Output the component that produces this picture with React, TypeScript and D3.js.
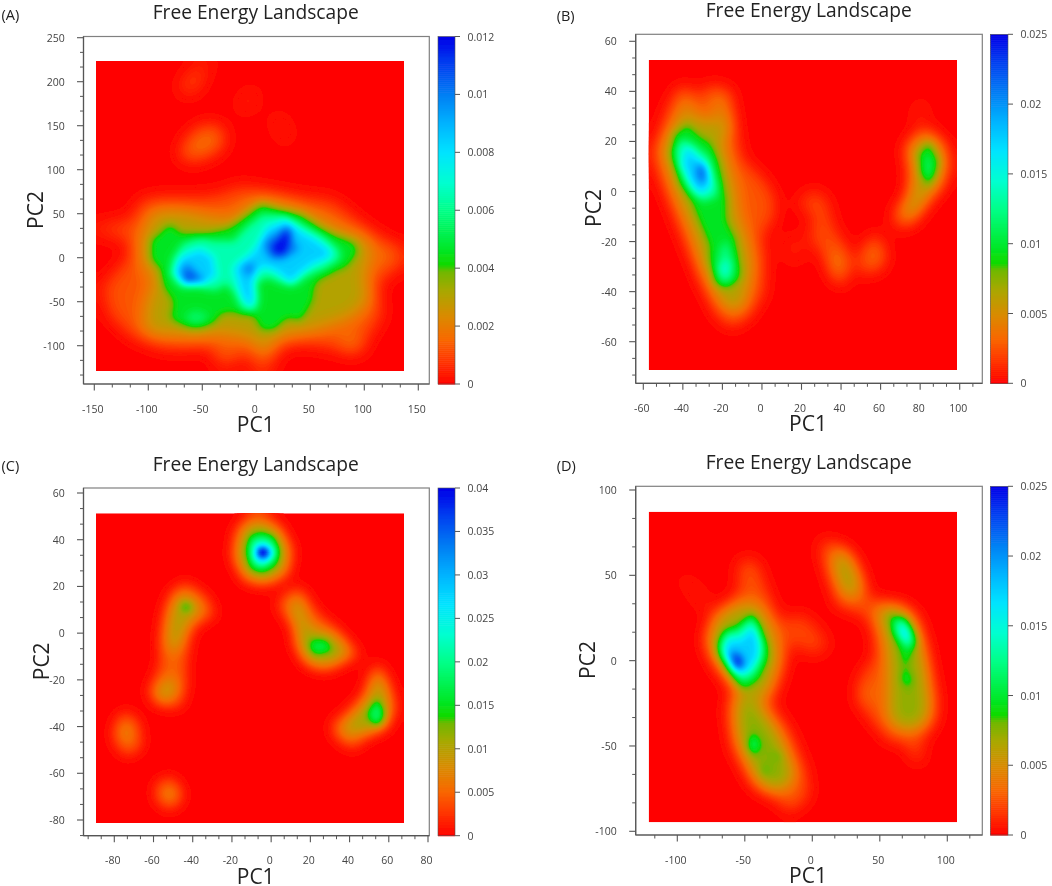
import React, { useMemo } from "react";
import * as d3 from "d3";

// Isolines: [share of the colour-bar maximum, [[pc1, pc2], ...]]
type Iso = [number, [number, number][]];

const isoA: Iso[] = [
  [0.11, [[-15,82],[10,76],[41,69],[72,65],[90,46],[109,27],[134,12],[132,-11],[112,-29],[117,-67],[103,-90],[97,-109],[78,-105],[41,-97],[22,-101],[13,-126],[-3,-126],[-6,-105],[-21,-120],[-37,-120],[-40,-101],[-84,-105],[-115,-90],[-136,-67],[-143,-33],[-127,-11],[-115,5],[-121,23],[-146,27],[-146,38],[-115,42],[-108,65],[-90,69],[-52,69],[-34,72]]],
  [0.15, [[-71,121],[-59,143],[-40,153],[-28,140],[-34,121],[-56,110],[-71,112]]],
  [0.11, [[-72,189],[-65,206],[-52,220],[-34,220],[-49,212],[-52,193],[-65,184]]],
  [0.07, [[-18,171],[-9,189],[2,193],[-3,171],[-12,165]]],
  [0.05, [[12,163],[25,163],[34,140],[28,125],[19,140]]],
  [0.17, [[118,12],[130,12],[130,-5],[118,-5]]],
  [0.2, [[81,-90],[93,-90],[95,-107],[82,-107]]],
  [0.17, [[-36,-105],[-26,-105],[-26,-118],[-36,-118]]],
  [0.26, [[5,67],[31,59],[56,46],[78,31],[104,22],[107,5],[100,-22],[106,-48],[90,-67],[59,-80],[41,-86],[19,-90],[7,-112],[-3,-92],[-34,-86],[-52,-90],[-80,-88],[-104,-86],[-102,-48],[-93,-26],[-105,-7],[-108,12],[-102,35],[-96,52],[-71,54],[-46,46],[-21,42],[-9,57]]],
  [0.39, [[5,62],[25,54],[42,50],[59,35],[72,27],[92,18],[95,5],[84,-11],[67,-20],[55,-29],[53,-48],[42,-73],[28,-69],[17,-84],[5,-84],[-3,-65],[-31,-63],[-40,-77],[-56,-82],[-71,-77],[-80,-69],[-77,-50],[-87,-33],[-90,-14],[-99,-3],[-98,20],[-90,29],[-79,40],[-68,27],[-43,29],[-25,35],[-11,48]]],
  [0.55, [[5,48],[28,48],[42,38],[61,25],[76,10],[78,-1],[64,-12],[48,-20],[36,-31],[22,-29],[10,-22],[0,-29],[2,-52],[-3,-62],[-14,-58],[-20,-41],[-28,-29],[-37,-37],[-56,-33],[-71,-33],[-80,-18],[-77,-1],[-68,16],[-52,22],[-34,18],[-21,18],[-9,35]]],
  [0.47, [[-66,-65],[-56,-60],[-43,-65],[-52,-75],[-62,-73]]],
  [0.71, [[10,35],[28,42],[41,31],[56,20],[69,8],[67,-1],[53,-7],[41,-18],[31,-29],[22,-18],[10,-11],[0,-14],[-3,-29],[-3,-56],[-12,-48],[-17,-29],[-21,-11],[-9,1],[0,12]]],
  [0.71, [[-70,1],[-52,10],[-40,1],[-37,-22],[-52,-29],[-68,-29],[-77,-16]]],
  [0.84, [[19,29],[31,38],[34,20],[41,10],[25,-1],[14,-1],[7,8],[7,20]]],
  [0.84, [[-14,-11],[-3,-5],[0,-14],[-7,-22]]],
  [0.86, [[-70,-16],[-65,-5],[-52,-20],[-46,-28],[-66,-29]]],
  [1.0, [[22,23],[30,35],[31,20],[27,3],[16,3],[14,14]]],
  [1.0, [[-66,-20],[-56,-24],[-65,-28]]],
];

const isoB: Iso[] = [
  [0.11, [[-38,43],[-33,37],[-27,43],[-16,41],[-13,25],[-10,13],[0,6],[6,-1],[7,-10],[0,-17],[2,-27],[1,-41],[-6,-50],[-15,-55],[-23,-50],[-32,-35],[-40,-19],[-52,5],[-55,15],[-49,31],[-43,41]]],
  [0.11, [[84.5,25],[93,19],[95.5,10],[91,1],[81,-7],[76,-14],[68,-15],[66,-9],[74,-1],[74,10],[72,18],[78,23]]],
  [0.04, [[76,35],[83,37],[84.5,25],[77,24]]],
  [0.1, [[17,-5],[26,1],[33,-3],[36,-14],[41,-19],[45,-28],[41,-39],[36,-35],[31,-26],[24,-19],[26,-9]]],
  [0.1, [[47.5,-28.5],[49,-25],[54,-19],[59,-16],[63.5,-27],[59,-32.5],[49,-33]]],
  [0.18, [[35,-23],[41,-23],[42,-31],[39,-37],[35,-31]]],
  [0.17, [[54,-22],[59,-20],[60,-28],[54,-30]]],
  [0.04, [[9,-19],[20.5,-16.5],[22,-27],[14,-30]]],
  [0.27, [[-38,31],[-33,29],[-30,29],[-22,27],[-17,31],[-16,25],[-20,21],[-18,14],[-14,2],[-12,-10],[-8,-19],[-5,-30],[-8,-41],[-10,-47],[-16,-48],[-23,-42],[-30,-30],[-35,-17],[-43,-2],[-48,9],[-51,17],[-45,26],[-42,30]]],
  [0.2, [[-41,38],[-36,38],[-35,30],[-42,30]]],
  [0.2, [[-24,38],[-18,38],[-17,28],[-24,28]]],
  [0.27, [[84,23],[91,17],[92,10],[89,2],[83,-2],[79,-9],[71,-11],[70,-9],[75,-2],[77,8],[74,17],[79,21]]],
  [0.39, [[-38,27],[-33,23],[-25,19],[-21,11],[-18,-2],[-18,-11],[-13,-19],[-11,-30],[-11,-35],[-18,-39],[-24,-37],[-27,-27],[-27,-21],[-33,-10],[-35,-5],[-42,3],[-46,14],[-45,23]]],
  [0.39, [[84.5,20],[89.5,13],[88.6,7],[84.5,2],[80,6],[78.6,15]]],
  [0.55, [[-40,21],[-35,19],[-27,14],[-23,3],[-23,-2],[-30,-4],[-37,1],[-42,9],[-44,17]]],
  [0.5, [[-18,-19],[-14,-29],[-15,-35],[-20,-37],[-23,-31],[-21,-23]]],
  [0.46, [[84.5,14],[86,10],[85,6],[83,7],[82,13]]],
  [0.71, [[-39,18],[-33,14],[-27,9],[-26,2],[-31,-1],[-36,3],[-40,10]]],
  [0.6, [[-18,-27],[-16,-31],[-19,-35],[-22,-31]]],
  [0.88, [[-33,11],[-29,11],[-28,5],[-31,3],[-33,6]]],
];

const isoC: Iso[] = [
  [0.13, [[-5,51],[4,47],[11,36],[9,25],[-2.4,20],[-14,22],[-20,33],[-18,45],[-12,50]]],
  [0.3, [[-5,47],[4,43],[8,35],[6,26],[-4,22.5],[-13,25],[-17,33],[-15,42],[-11,46.5]]],
  [0.39, [[-5,44],[2,42],[5,35],[3.5,29],[-4,25],[-11,27],[-13,35],[-11.5,42]]],
  [0.55, [[-5,41],[0,40],[3,35],[0,30],[-5,28],[-10,30],[-11,35],[-10,40]]],
  [0.71, [[-5,38],[-1.5,37],[2,34.5],[-1.5,31],[-5,30],[-8,32.5],[-8,36]]],
  [0.95, [[-5.4,37],[-0.3,34.6],[-4,32],[-6.6,34]]],
  [1.5, [[-5,36],[-2.4,34.6],[-5,33],[-5.8,34.3]]],
  [0.13, [[-44,22],[-33,16],[-28,7.5],[-36,5],[-41,0.5],[-43,-9.5],[-43,-21],[-46,-32],[-58,-31],[-63,-25],[-57,-15],[-57,-4],[-55,7.5],[-51.5,17.5]]],
  [0.27, [[-45,17.5],[-38,13],[-35,7.5],[-41,7],[-45,-1],[-48,-7.5],[-53,-7],[-52,5],[-50,12]]],
  [0.27, [[-50,-19.5],[-48,-24],[-55,-30],[-59,-27],[-55,-21]]],
  [0.42, [[-45.6,13.5],[-40.5,12],[-42,9],[-45.6,9.5]]],
  [0.13, [[-73.5,-33],[-67,-39],[-66,-49],[-73.5,-53],[-80,-47],[-79.5,-37]]],
  [0.22, [[-74,-39],[-71,-42],[-73,-46.5],[-77,-44],[-77,-40]]],
  [0.13, [[-51.5,-61],[-45.5,-67],[-45.5,-72],[-52,-76],[-59,-71.5],[-59,-65]]],
  [0.22, [[-52,-66],[-48,-68],[-50,-71.5],[-55,-71],[-55,-67]]],
  [0.13, [[14.5,20],[23,9],[33,2],[46,-9.5],[38,-12.5],[28,-16.5],[18,-14],[12,-5],[12,2],[2.7,12],[6,16]]],
  [0.29, [[14,16],[17,7.5],[19,2],[31.5,-1],[40,-8],[31.5,-12.5],[23,-13.5],[16,-9.5],[14.5,-2.4],[13,3],[10,12]]],
  [0.42, [[20.5,-2.4],[29,-3],[31.5,-7.5],[23,-9.5],[19,-7]]],
  [0.13, [[54.5,-12.5],[60.5,-21],[63.7,-32],[60,-39.5],[48.5,-45],[41.7,-50],[33,-45],[30,-39.5],[38,-34],[47,-26.5],[51,-16.5]]],
  [0.29, [[54.5,-15],[58.6,-26.5],[60,-34],[57,-41],[45,-42],[38,-44],[35.8,-41],[43,-35],[50,-28],[52.7,-21]]],
  [0.46, [[54,-28],[58,-34],[56,-39],[52,-39],[49,-34.5]]],
];

const isoD: Iso[] = [
  [0.11, [[-54,59],[-41.5,59],[-34,42],[-24,22],[-19,2.5],[-24,-13],[-31,-25],[-17,-40.5],[-4.4,-64],[-2,-80],[-17,-90],[-29,-80],[-44,-74],[-59,-52],[-64,-29],[-59,-17],[-74,-1.4],[-80,12],[-74,28],[-64,33],[-54,40]]],
  [0.06, [[-78.5,28],[-96,45.5],[-96,51],[-88,45.5],[-74,32]]],
  [0.03, [[-114,51],[-107,51],[-107,46.5],[-114,46.5]]],
  [0.09, [[-24,24],[-7,28],[5.4,18],[13,8.4],[0.5,2.5],[-14,10],[-19,6.5]]],
  [0.28, [[-49,34],[-39,32],[-29,18],[-25,2.5],[-30,-13],[-38,-24],[-49,-18],[-59,-13],[-71,0.6],[-77,10],[-72,24],[-64,30]]],
  [0.31, [[-49,-18],[-44,-23],[-39,-27],[-30,-37],[-22,-48],[-14,-66],[-17,-72],[-24,-76],[-37,-74],[-46,-62],[-55,-46],[-56,-29],[-54,-18]]],
  [0.39, [[-45,29],[-39,22],[-33,10],[-32,1],[-39,-11],[-49,-17],[-54,-16],[-61,-9],[-70,2.5],[-71,10],[-66,18],[-54,21]]],
  [0.55, [[-44,25],[-40,18],[-36.5,8],[-38,-1.4],[-44,-9],[-51,-12],[-59,-6],[-66,2.5],[-68,10],[-64,16],[-54,18],[-50,22]]],
  [0.71, [[-44,20],[-40,12],[-40,2.5],[-46,-5],[-54,-8],[-61,-1.4],[-66,6.5],[-61,13],[-54,12],[-49,16]]],
  [0.89, [[-56,5.5],[-51,2.5],[-51,-4],[-55,-5.7],[-61,0.6],[-62,4.5]]],
  [1.05, [[-55,2.5],[-52,-1.4],[-55,-5],[-57.5,-1.4]]],
  [0.46, [[-44,-42],[-39,-49],[-43,-56],[-48,-50]]],
  [0.42, [[-29,-54],[-23,-55],[-25,-59]]],
  [0.42, [[-37,-61],[-34,-62],[-34,-66],[-37,-66]]],
  [0.11, [[11.6,71],[25,65],[35,53],[40,41],[45,34],[50,36],[59,32],[77,28],[84,10],[92,-19],[92,-35],[80,-48],[82,-60],[75,-60],[70,-48],[57.8,-48],[45,-36.5],[33,-23],[35,-9],[47,2.5],[45,18],[40,26],[18,32],[15,42],[6.7,61],[6.7,71]]],
  [0.28, [[19,67],[29,61],[36,45.5],[35,38],[25,37],[19,45.5],[15,57]]],
  [0.3, [[50,32],[67,32],[78,18],[83,0.6],[87,-29],[82,-38.5],[67,-41],[57,-34.5],[56,-21],[57,-5],[55,10],[50,24]]],
  [0.39, [[57,27],[68.4,26],[75.8,18],[78,10],[73,2.5],[69.6,-3],[74.6,-12],[71,-17],[66,-12],[67,-1.4],[65,6.5],[58.5,16]]],
  [0.55, [[61,24],[68.4,24],[73,16],[74.6,10],[70,6.5],[67,12],[61,18]]],
  [0.68, [[66,21],[71,19],[72,13],[68.4,10],[64.7,16]]],
  [0.18, [[37.5,-13],[43.7,-17],[42.5,-25],[37.5,-23]]],
];

const colorStops: [number, string][] = [
  [0, "#ff0000"], [0.07, "#ff3800"], [0.13, "#f86800"], [0.2, "#d88c00"], [0.27, "#a8a800"], [0.325, "#70b800"],
  [0.345, "#10da00"], [0.4, "#00ea30"], [0.5, "#00ff88"], [0.58, "#00ffd0"], [0.667, "#00e4ff"], [0.75, "#00b4ff"],
  [0.83, "#0080f4"], [0.92, "#0040f0"], [1, "#0000e8"],
];

const titleText = "Free Energy Landscape";

const scaleColor = d3.scaleLinear<string>()
  .domain(colorStops.map((s) => s[0]))
  .range(colorStops.map((s) => s[1]))
  .interpolate(d3.interpolateRgb);

interface PanelCfg {
  letter: string; letterPos: [number, number];
  frame: [number, number, number, number];
  xAnchor: [number, number, number, number]; yAnchor: [number, number, number, number];
  heat: [number, number, number, number];
  xTicks: number[]; yTicks: number[]; cbTicks: number[]; vmax: number;
  iso: Iso[]; titlePos: [number, number]; pc1Pos: [number, number]; pc2Pos: [number, number];
  barX: [number, number]; labelRight: number; blur: number; wideBlur: number;
}

const xTicksA = [-150, -100, -50, 0, 50, 100, 150];
const yTicksA = [-100, -50, 0, 50, 100, 150, 200, 250];
const cbA = [0, 0.002, 0.004, 0.006, 0.008, 0.01, 0.012];
const xTicksB = [-60, -40, -20, 0, 20, 40, 60, 80, 100];
const yTicksB = [-60, -40, -20, 0, 20, 40, 60];
const cbB = [0, 0.005, 0.01, 0.015, 0.02, 0.025];
const xTicksC = [-80, -60, -40, -20, 0, 20, 40, 60, 80];
const yTicksC = [-80, -60, -40, -20, 0, 20, 40, 60];
const cbC = [0, 0.005, 0.01, 0.015, 0.02, 0.025, 0.03, 0.035, 0.04];
const xTicksD = [-100, -50, 0, 50, 100];
const yTicksD = [-100, -50, 0, 50, 100];
const cbD = [0, 0.005, 0.01, 0.015, 0.02, 0.025];

const panels: PanelCfg[] = [
  { letter: "(A)", letterPos: [1.5, 20], frame: [83.5, 36.5, 429.3, 384], xAnchor: [-150, 150, 94.3, 418.3], yAnchor: [-100, 250, 345.7, 37.7],
    heat: [96, 61, 404, 371], xTicks: xTicksA, yTicks: yTicksA, cbTicks: cbA, vmax: 0.012, iso: isoA,
    titlePos: [255.7, 19], pc1Pos: [255.7, 431.5], pc2Pos: [42.7, 210], barX: [438, 455], labelRight: 64.7, blur: 1.4, wideBlur: 3.4 },
  { letter: "(B)", letterPos: [556.7, 20.5], frame: [635.7, 34.3, 982.3, 383.3], xAnchor: [-60, 100, 643.3, 959.7], yAnchor: [-60, 60, 341.7, 41.3],
    heat: [648.7, 60, 957, 370], xTicks: xTicksB, yTicks: yTicksB, cbTicks: cbB, vmax: 0.025, iso: isoB,
    titlePos: [808.7, 17.3], pc1Pos: [808, 431], pc2Pos: [601.3, 208], barX: [990.3, 1008], labelRight: 616.7, blur: 1.4, wideBlur: 3 },
  { letter: "(C)", letterPos: [1.5, 471.3], frame: [83.5, 488, 429.3, 835.7], xAnchor: [-80, 80, 114.3, 428], yAnchor: [-80, 60, 820, 493],
    heat: [96, 513.3, 404, 823], xTicks: xTicksC, yTicks: yTicksC, cbTicks: cbC, vmax: 0.04, iso: isoC,
    titlePos: [255.7, 470.7], pc1Pos: [255.7, 883.7], pc2Pos: [48.7, 661.3], barX: [438, 455], labelRight: 64.7, blur: 1.3, wideBlur: 2.4 },
  { letter: "(D)", letterPos: [556.7, 471.3], frame: [635.7, 486.3, 982.3, 835], xAnchor: [-100, 100, 677.3, 947.3], yAnchor: [-100, 100, 831.3, 490],
    heat: [648.7, 511.7, 957, 822.3], xTicks: xTicksD, yTicks: yTicksD, cbTicks: cbD, vmax: 0.025, iso: isoD,
    titlePos: [808.7, 469], pc1Pos: [808, 883], pc2Pos: [594.7, 660], barX: [990.3, 1008], labelRight: 616.7, blur: 1.4, wideBlur: 3 },
];

const FONT = "'Open Sans', sans-serif";
const LEVELS = 110;
const GREEN_JUMP = 0.36;

function minorTicks(major: number[], lo: number, hi: number): number[] {
  const step = (major[1] - major[0]) / 3;
  const out: number[] = [];
  const a = Math.min(lo, hi), b = Math.max(lo, hi);
  for (let k = -40; k < 200; k++) {
    const v = major[0] + k * step;
    if (v >= a && v <= b && k % 3 !== 0) out.push(v);
  }
  return out;
}

function Panel({ p, i }: { p: PanelCfg; i: number }) {
  const [fl, ft, fr, fb] = p.frame;
  const sx = d3.scaleLinear().domain([p.xAnchor[0], p.xAnchor[1]]).range([p.xAnchor[2], p.xAnchor[3]]);
  const sy = d3.scaleLinear().domain([p.yAnchor[0], p.yAnchor[1]]).range([p.yAnchor[2], p.yAnchor[3]]);
  const sbar = d3.scaleLinear().domain([0, p.vmax]).range([fb, ft]);
  const [hl, ht, hr, hb] = p.heat;

  const paths = useMemo(() => {
    const nx = Math.round((hr - hl) / 2), ny = Math.round((hb - ht) / 2);
    const gx = d3.scaleLinear().domain([0, nx]).range([hl, hr]);
    const gy = d3.scaleLinear().domain([0, ny]).range([ht, hb]);
    const vals = new Float64Array(nx * ny);
    const stamp = (list: Iso[]) => {
      for (const [level, pts] of list) {
        const [x0, x1] = d3.extent(pts, (q) => q[0]) as [number, number];
        const [y0, y1] = d3.extent(pts, (q) => q[1]) as [number, number];
        for (let r = 0; r < ny; r++) {
          const dy = sy.invert(gy(r + 0.5));
          if (dy < y0 || dy > y1) continue;
          for (let c = 0; c < nx; c++) {
            const dx = sx.invert(gx(c + 0.5));
            if (dx < x0 || dx > x1) continue;
            const idx = r * nx + c;
            if (vals[idx] < level && d3.polygonContains(pts, [dx, dy])) vals[idx] = level;
          }
        }
      }
    };
    stamp(p.iso.filter((d) => d[0] < GREEN_JUMP));
    d3.blur2({ data: vals, width: nx, height: ny }, p.wideBlur);
    stamp(p.iso.filter((d) => d[0] >= GREEN_JUMP));
    d3.blur2({ data: vals, width: nx, height: ny }, p.blur);
    const th = d3.range(1, LEVELS).map((k) => k / LEVELS);
    const polys = d3.contours().size([nx, ny]).thresholds(th)(Array.from(vals));
    const path = d3.geoPath(d3.geoTransform({
      point(x: number, y: number) { (this as any).stream.point(gx(x), gy(y)); },
    }));
    return polys.map((g) => ({ d: path(g as any) || "", fill: scaleColor(g.value) }));
  }, []);

  const barLevels = d3.range(0, 175).map((k) => k / 175);
  const xMinor = minorTicks(p.xTicks, sx.invert(fl), sx.invert(fr));
  const yMinor = minorTicks(p.yTicks, sy.invert(fb), sy.invert(ft));
  const axisCol = "#555";
  const txt = "#444";

  return (
    <g>
      <text x={p.letterPos[0]} y={p.letterPos[1]} fontSize={14.5} fill="#222" fontFamily={FONT}>{p.letter}</text>
      <text x={p.titlePos[0]} y={p.titlePos[1]} fontSize={19.2} textAnchor="middle" fill="#222" fontFamily={FONT}>{titleText}</text>
      <text x={p.pc1Pos[0]} y={p.pc1Pos[1]} fontSize={21} textAnchor="middle" fill="#222" fontFamily={FONT}>PC1</text>
      <text transform={`translate(${p.pc2Pos[0]},${p.pc2Pos[1]}) rotate(-90)`} fontSize={21} textAnchor="middle" fill="#222" fontFamily={FONT}>PC2</text>

      <clipPath id={`clip${i}`}><rect x={hl} y={ht} width={hr - hl} height={hb - ht} /></clipPath>
      <g clipPath={`url(#clip${i})`}>
        <rect x={hl} y={ht} width={hr - hl} height={hb - ht} fill="#ff0000" />
        {paths.map((q, k) => <path key={k} d={q.d} fill={q.fill} />)}
      </g>

      <rect x={fl} y={ft} width={fr - fl} height={fb - ft} fill="none" stroke="#808080" strokeWidth={1.2} />
      <line x1={fl} x2={fr} y1={fb} y2={fb} stroke={axisCol} strokeWidth={1.2} />
      <line x1={fl} x2={fl} y1={ft} y2={fb} stroke={axisCol} strokeWidth={1.2} />

      {p.xTicks.map((t) => (
        <g key={t}>
          <line x1={sx(t)} x2={sx(t)} y1={fb} y2={fb + 6.5} stroke={axisCol} strokeWidth={1.1} />
          <text x={sx(t) - 1.5} y={fb + 28.5} fontSize={10.5} textAnchor="middle" fill={txt} fontFamily={FONT}>{t}</text>
        </g>
      ))}
      {xMinor.map((t) => <line key={t} x1={sx(t)} x2={sx(t)} y1={fb} y2={fb + 3.5} stroke={axisCol} strokeWidth={1} />)}
      {p.yTicks.map((t) => (
        <g key={t}>
          <line x1={fl - 6.5} x2={fl} y1={sy(t)} y2={sy(t)} stroke={axisCol} strokeWidth={1.1} />
          <text x={p.labelRight} y={sy(t) + 4} fontSize={10.5} textAnchor="end" fill={txt} fontFamily={FONT}>{t}</text>
        </g>
      ))}
      {yMinor.map((t) => <line key={t} x1={fl - 3.5} x2={fl} y1={sy(t)} y2={sy(t)} stroke={axisCol} strokeWidth={1} />)}

      {barLevels.map((f) => (
        <rect key={f} x={p.barX[0]} width={p.barX[1] - p.barX[0]} y={sbar((f + 1 / 175) * p.vmax)} height={(fb - ft) / 175 + 0.6} fill={scaleColor(f + 0.5 / 175)} />
      ))}
      <rect x={p.barX[0]} y={ft} width={p.barX[1] - p.barX[0]} height={fb - ft} fill="none" stroke="#555" strokeWidth={0.6} />
      {p.cbTicks.map((t) => (
        <g key={t}>
          <line x1={p.barX[1]} x2={p.barX[1] + 5} y1={sbar(t)} y2={sbar(t)} stroke={axisCol} strokeWidth={1} />
          <text x={p.barX[1] + 12.5} y={sbar(t) + 4} fontSize={10.5} fill={txt} fontFamily={FONT}>{String(t)}</text>
        </g>
      ))}
    </g>
  );
}

export default function App() {
  return (
    <svg width={1052} height={886} viewBox="0 0 1052 886" style={{ position: "absolute", left: 0, top: 0, background: "#fff" }}>
      <defs>
        <filter id="soft" x="0" y="0" width="1052" height="886" filterUnits="userSpaceOnUse">
          <feGaussianBlur stdDeviation="0.4" />
        </filter>
      </defs>
      <g filter="url(#soft)">
        <rect width={1052} height={886} fill="#fff" />
        {panels.map((p, i) => <Panel key={p.letter} p={p} i={i} />)}
      </g>
    </svg>
  );
}
